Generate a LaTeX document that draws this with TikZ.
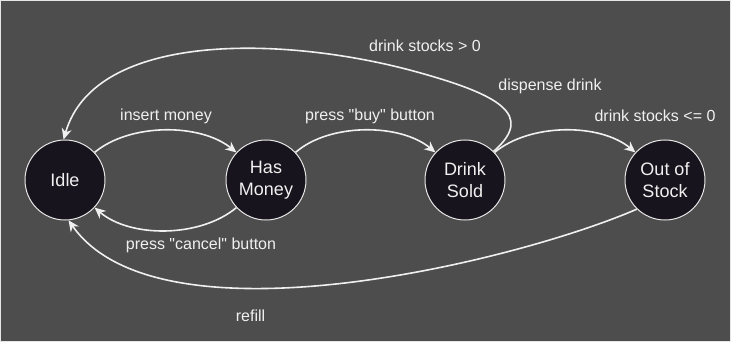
\documentclass[tikz,border=0pt]{standalone}
\usepackage{fontspec}
\setmainfont{Liberation Sans}
\usetikzlibrary{arrows.meta}
\definecolor{bgc}{HTML}{4D4D4D}
\definecolor{nodefill}{HTML}{18141D}
\definecolor{nodeline}{HTML}{E6E6E6}
\definecolor{edgec}{HTML}{F0F0F0}
\tikzset{
  state/.style={circle, draw=nodeline, fill=nodefill, line width=1pt,
    minimum size=80pt, inner sep=0pt, text=edgec, align=center,
    font=\fontsize{18}{22}\selectfont},
  edge/.style={draw=edgec, line width=1.6pt,
    -{Stealth[length=11pt,width=10pt,inset=3.5pt]}},
  lbl/.style={text=edgec, font=\fontsize{16}{19}\selectfont, inner sep=0pt}
}
\begin{document}
\begin{tikzpicture}[x=1pt,y=-1pt]
\useasboundingbox (0,0) rectangle (731,342);
\fill[bgc] (0,0) rectangle (731,342);
\draw[nodeline, line width=1pt] (0.5,0.5) rectangle (730.5,341.5);

\node[state] (idle) at (65,180) {Idle};
\node[state] (hm) at (266,180) {Has\\Money};
\node[state] (ds) at (465,180) {Drink\\Sold};
\node[state] (os) at (665,180) {Out of\\Stock};

\coordinate (p) at (417,72);

\draw[edge] (idle.43) .. controls (130,123) and (200,123) .. (hm.137);
\draw[edge] (hm.43) .. controls (329,123) and (400,123) .. (ds.137);
\draw[edge] (ds.43) .. controls (530,123) and (600,123) .. (os.137);
\draw[edge] (hm.223) .. controls (200,238) and (130,238) .. (idle.317);
\draw[edge] (ds.45) .. controls (535,115) and (500,95) .. (p)
  .. controls (287,36) and (95,30) .. (idle.92);
\draw[edge] (os.226) .. controls (520,260) and (160,350) .. (idle.275);

\node[lbl] (l1) at (166,116) {insert money};
\node[lbl] (l2) at (370,116) {press \textquotedbl buy\textquotedbl\ button};
\node[lbl] (l3) at (425,45.5) {drink stocks > 0};
\node[lbl] (l4) at (550,86) {dispense drink};
\node[lbl] (l5) at (655,115.5) {drink stocks <= 0};
\node[lbl] (l6) at (201,245.5) {press \textquotedbl cancel\textquotedbl\ button};
\node[lbl] (l7) at (250.5,315.5) {refill};
\end{tikzpicture}
\end{document}
